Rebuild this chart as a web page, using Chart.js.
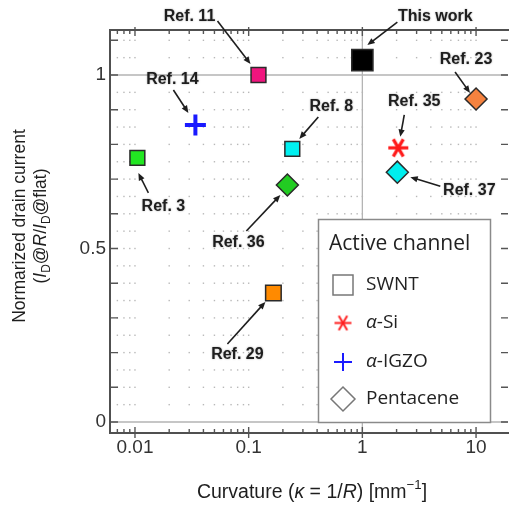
<!DOCTYPE html>
<html>
<head>
<meta charset="utf-8">
<script src="https://cdn.jsdelivr.net/npm/chart.js@4.4.1/dist/chart.umd.min.js"></script>
<style>
html, body { margin: 0; padding: 0; background: #fff; }
</style>
</head>
<body>
<canvas id="c" width="509" height="509"></canvas>
<script>
// SWNT
var swntRefs = ['Ref. 11', 'This work', 'Ref. 3', 'Ref. 8', 'Ref. 29']
var swntCurv = [0.122, 1.0, 0.0105, 0.242, 0.165]
var swntCurr = [1.0, 1.043, 0.761, 0.787, 0.372]
// a-Si
var siRefs = ['Ref. 35']
var siCurv = [2.07]
var siCurr = [0.79]
// a-IGZO
var igzoRefs = ['Ref. 14']
var igzoCurv = [0.034]
var igzoCurr = [0.856]
// Pentacene
var pentRefs = ['Ref. 36', 'Ref. 37', 'Ref. 23']
var pentCurv = [0.219, 2.03, 10.0]
var pentCurr = [0.683, 0.72, 0.931]

var xTickLabels = [0.01, 0.1, 1, 10]
var yTickLabels = [0, 0.5, 1]
var legendTitle = 'Active channel'
var legendNames = ['SWNT', 'α-Si', 'α-IGZO', 'Pentacene']

// styles (kept apart from data)
var swntFill = ['#f0157e', '#000000', '#22e622', '#00f0f0', '#ff8a00']
var swntSize = [10.5, 15, 10.5, 10.5, 11]
var pentFill = ['#22cc22', '#00eeee', '#f5823f']

// label placement, pixel offsets from the point: text centre, arrow start, arrow end
var notePos = {
    'Ref. 11': [-69, -58, -41, -54, -8, -11],
    'This work': [73, -43, 35, -38, 5, -15],
    'Ref. 14': [-23, -45, -22, -35, -7, -12],
    'Ref. 3': [26, 49, 11, 35, 1, 15],
    'Ref. 8': [39, -42, 26, -32, 7, -10],
    'Ref. 36': [-49, 58, -41, 46, -7, 10],
    'Ref. 35': [16, -46, 6, -33, 2, -11],
    'Ref. 37': [72, 18, 43, 14, 13, 5],
    'Ref. 23': [-10, -39, -21, -27, -6, -6],
    'Ref. 29': [-36, 62, -46, 51, -8, 9]
}

var SANS = "'Liberation Sans', Arial, sans-serif"
var LEG = "'Open Sans', 'Noto Sans', sans-serif"

function toPts(xs, ys) {
    var out = []
    for (var i = 0; i < xs.length; i++) out.push({ x: xs[i], y: ys[i] })
    return out
}

// six-armed asterisk: horizontal bar plus two diagonals
function asterisk(size, color, lw) {
    var c = document.createElement('canvas')
    c.width = c.height = size
    var g = c.getContext('2d')
    g.strokeStyle = color
    g.lineWidth = lw
    var r = size / 2 - 1
    for (var i = 0; i < 3; i++) {
        var t = i * Math.PI / 3
        g.beginPath()
        g.moveTo(size / 2 + r * Math.cos(t), size / 2 + r * Math.sin(t))
        g.lineTo(size / 2 - r * Math.cos(t), size / 2 - r * Math.sin(t))
        g.stroke()
    }
    return c
}

// rich text: parts = [[text, italic, 'sub'|'sup'|null]]
function richWidth(ctx, parts, size) {
    var w = 0
    parts.forEach(function (p) {
        var s = p[2] ? size * 0.68 : size
        ctx.font = (p[1] ? 'italic ' : '') + s + 'px ' + SANS
        w += ctx.measureText(p[0]).width
    })
    return w
}
function drawRich(ctx, parts, cx, cy, size) {
    var x = cx - richWidth(ctx, parts, size) / 2
    parts.forEach(function (p) {
        var s = p[2] ? size * 0.68 : size
        ctx.font = (p[1] ? 'italic ' : '') + s + 'px ' + SANS
        var dy = p[2] == 'sub' ? size * 0.3 : p[2] == 'sup' ? -size * 0.38 : 0
        ctx.fillText(p[0], x, cy + dy)
        x += ctx.measureText(p[0]).width
    })
}

function arrow(ctx, x1, y1, x2, y2) {
    var a = Math.atan2(y2 - y1, x2 - x1)
    ctx.beginPath()
    ctx.moveTo(x1, y1)
    ctx.lineTo(x2 - 5 * Math.cos(a), y2 - 5 * Math.sin(a))
    ctx.stroke()
    ctx.beginPath()
    ctx.moveTo(x2, y2)
    ctx.lineTo(x2 - 8 * Math.cos(a - 0.4), y2 - 8 * Math.sin(a - 0.4))
    ctx.lineTo(x2 - 8 * Math.cos(a + 0.4), y2 - 8 * Math.sin(a + 0.4))
    ctx.closePath()
    ctx.fill()
}

var gridPlugin = {
    id: 'gridPlugin',
    beforeDatasetsDraw: function (chart) {
        var ctx = chart.ctx, xs = chart.scales.x, ys = chart.scales.y, a = chart.chartArea
        var minors = [], decades = []
        for (var e = -3; e <= 1; e++) {
            for (var k = 1; k <= 9; k++) {
                var v = k * Math.pow(10, e)
                if (v >= xs.min && v <= xs.max) {
                    minors.push(v)
                    if (k == 1) decades.push(v)
                }
            }
        }
        ctx.save()
        // dotted lattice
        ctx.fillStyle = '#b8b8b8'
        minors.forEach(function (v) {
            var px = xs.getPixelForValue(v)
            for (var j = 1; j <= 22; j++) {
                var py = ys.getPixelForValue(j * 0.05)
                if (j == 20) continue
                ctx.fillRect(px - 0.7, py - 0.7, 1.4, 1.4)
            }
        })
        // solid guide lines
        ctx.strokeStyle = '#b4b4b4'
        ctx.lineWidth = 1.3
        ctx.beginPath()
        ;[0, 1].forEach(function (v) {
            var py = ys.getPixelForValue(v)
            ctx.moveTo(a.left, py); ctx.lineTo(a.right, py)
        })
        var p1 = xs.getPixelForValue(1)
        ctx.moveTo(p1, a.top); ctx.lineTo(p1, a.bottom)
        ctx.stroke()
        // ticks
        ctx.strokeStyle = '#555'
        ctx.lineWidth = 1.4
        ctx.beginPath()
        for (var t = 0; t <= 11; t++) {
            var py = ys.getPixelForValue(t / 10)
            ctx.moveTo(a.left, py); ctx.lineTo(a.left + 8, py)
            ctx.moveTo(a.right, py); ctx.lineTo(a.right - 7, py)
        }
        minors.forEach(function (v) {
            var px = xs.getPixelForValue(v)
            var dec = decades.indexOf(v) >= 0
            ctx.moveTo(px, a.bottom + (dec ? 5 : 0)); ctx.lineTo(px, a.bottom - (dec ? 6 : 4))
            ctx.moveTo(px, a.top - (dec ? 3 : 0)); ctx.lineTo(px, a.top + (dec ? 6 : 4))
        })
        ctx.stroke()
        // frame
        ctx.strokeStyle = '#505050'
        ctx.lineWidth = 2
        ctx.beginPath()
        ctx.moveTo(a.right + 2, a.top); ctx.lineTo(a.left, a.top)
        ctx.lineTo(a.left, a.bottom); ctx.lineTo(a.right + 2, a.bottom)
        ctx.stroke()
        // tick labels, placed through the scales
        ctx.fillStyle = '#333'
        ctx.font = '19px ' + SANS
        ctx.textAlign = 'center'
        ctx.textBaseline = 'middle'
        xTickLabels.forEach(function (v) {
            ctx.fillText(String(v), xs.getPixelForValue(v), a.bottom + 15)
        })
        ctx.textAlign = 'right'
        yTickLabels.forEach(function (v) {
            ctx.fillText(String(v), a.left - 4, ys.getPixelForValue(v))
        })
        ctx.restore()
    }
}

var notesPlugin = {
    id: 'notesPlugin',
    afterDatasetsDraw: function (chart) {
        var ctx = chart.ctx
        ctx.save()
        // labels with arrows
        chart.data.datasets.forEach(function (ds, i) {
            var meta = chart.getDatasetMeta(i)
            meta.data.forEach(function (el, j) {
                var name = ds.refs[j], p = notePos[name]
                if (!p) return
                ctx.strokeStyle = '#1e1e1e'
                ctx.fillStyle = '#1e1e1e'
                ctx.lineWidth = 1.6
                arrow(ctx, el.x + p[2], el.y + p[3], el.x + p[4], el.y + p[5])
                ctx.font = 'bold 16px ' + SANS
                ctx.textAlign = 'center'
                ctx.textBaseline = 'middle'
                ctx.shadowColor = 'rgba(0,0,0,0.35)'
                ctx.shadowBlur = 2
                ctx.fillText(name, el.x + p[0], el.y + p[1])
                ctx.shadowBlur = 0
            })
        })
        // legend box
        ctx.fillStyle = '#fff'
        ctx.strokeStyle = '#8a8a8a'
        ctx.lineWidth = 1.5
        ctx.fillRect(318, 219, 172, 204)
        ctx.strokeRect(318.5, 219.5, 172, 203)
        ctx.fillStyle = '#222'
        ctx.textAlign = 'left'
        ctx.textBaseline = 'middle'
        ctx.font = '21px ' + LEG
        ctx.fillText(legendTitle, 329, 244)
        var rows = [285, 323, 362, 399], sx = 343
        // SWNT square
        ctx.strokeStyle = '#777'
        ctx.lineWidth = 1.5
        ctx.strokeRect(sx - 10, rows[0] - 10, 20, 20)
        // a-Si asterisk
        ctx.drawImage(asterisk(19, '#ff2020', 2), sx - 9.5, rows[1] - 9.5)
        // a-IGZO plus
        ctx.strokeStyle = '#1a1aff'
        ctx.lineWidth = 2
        ctx.beginPath()
        ctx.moveTo(sx - 9, rows[2]); ctx.lineTo(sx + 9, rows[2])
        ctx.moveTo(sx, rows[2] - 9); ctx.lineTo(sx, rows[2] + 9)
        ctx.stroke()
        // Pentacene diamond
        ctx.strokeStyle = '#777'
        ctx.lineWidth = 1.5
        ctx.beginPath()
        ctx.moveTo(sx, rows[3] - 12); ctx.lineTo(sx + 12, rows[3])
        ctx.lineTo(sx, rows[3] + 12); ctx.lineTo(sx - 12, rows[3])
        ctx.closePath()
        ctx.stroke()
        ctx.fillStyle = '#222'
        legendNames.forEach(function (n, k) {
            var x = 366
            if (n.charAt(0) == 'α') {
                ctx.font = 'italic 19px ' + LEG
                ctx.fillText('α', x, rows[k])
                x += ctx.measureText('α').width
                n = n.slice(1)
            }
            ctx.font = '19px ' + LEG
            ctx.fillText(n, x, rows[k])
        })
        ctx.restore()
    },
    afterDraw: function (chart) {
        var ctx = chart.ctx
        ctx.save()
        ctx.fillStyle = '#1e1e1e'
        ctx.textAlign = 'left'
        ctx.textBaseline = 'middle'
        drawRich(ctx, [['Curvature (', 0], ['κ', 1], [' = 1/', 0], ['R', 1], [') [mm', 0], ['−1', 0, 'sup'], [']', 0]], 312, 493, 19.5)
        ctx.translate(20, 226)
        ctx.rotate(-Math.PI / 2)
        drawRich(ctx, [['Normarized drain current', 0]], 0, 0, 17.5)
        ctx.translate(0, 21)
        drawRich(ctx, [['(', 0], ['I', 1], ['D', 0, 'sub'], ['@', 0], ['R', 1], ['/', 0], ['I', 1], ['D', 0, 'sub'], ['@flat)', 0]], 0, 0, 17.5)
        ctx.restore()
    }
}

var sqBorder = '#2a2a2a'

new Chart(document.getElementById('c'), {
    type: 'scatter',
    data: {
        datasets: [
            {
                label: legendNames[0], refs: swntRefs,
                data: toPts(swntCurv, swntCurr),
                pointStyle: 'rect', pointRadius: swntSize,
                backgroundColor: swntFill, borderColor: sqBorder, borderWidth: 1.5
            },
            {
                label: legendNames[1], refs: siRefs,
                data: toPts(siCurv, siCurr),
                pointStyle: asterisk(22, '#ff1a1a', 3.2), pointRadius: 11
            },
            {
                label: legendNames[2], refs: igzoRefs,
                data: toPts(igzoCurv, igzoCurr),
                pointStyle: 'cross', pointRadius: 10.5,
                borderColor: '#1a1aff', borderWidth: 4
            },
            {
                label: legendNames[3], refs: pentRefs,
                data: toPts(pentCurv, pentCurr),
                pointStyle: 'rectRot', pointRadius: 11,
                backgroundColor: pentFill, borderColor: sqBorder, borderWidth: 1.5
            }
        ]
    },
    options: {
        responsive: false,
        animation: false,
        layout: { autoPadding: false, padding: { top: 30, right: 1, left: 0, bottom: 0 } },
        plugins: { legend: { display: false }, tooltip: { enabled: false } },
        scales: {
            x: {
                type: 'logarithmic', min: 0.00603, max: 19.1,
                grid: { display: false, drawTicks: false },
                border: { display: false },
                ticks: { display: false },
                afterFit: function (s) { s.height = 76 }
            },
            y: {
                min: -0.0317, max: 1.1297,
                grid: { display: false, drawTicks: false },
                border: { display: false },
                ticks: { display: false },
                afterFit: function (s) { s.width = 110 }
            }
        }
    },
    plugins: [gridPlugin, notesPlugin]
})
</script>
</body>
</html>
